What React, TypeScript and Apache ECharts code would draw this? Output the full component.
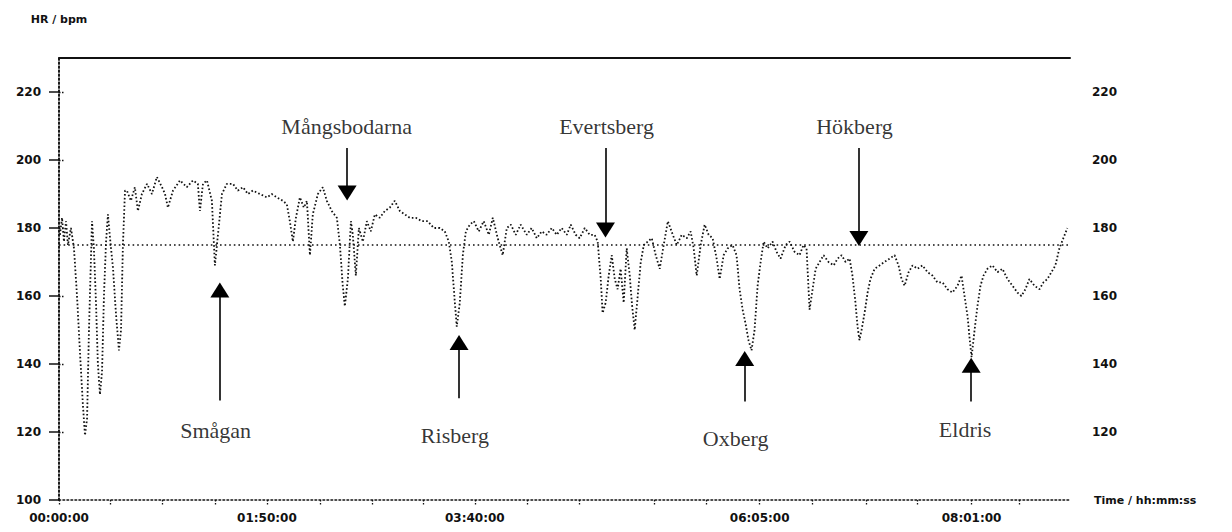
import React, { useEffect, useRef } from "react";
import * as echarts from "echarts";

// Heart-rate samples, [minutes from start, bpm], split by leg of the race
const legToSmagan: [number, number][] = [
  [0.5, 178], [1.6, 183], [2.6, 176], [3.7, 182], [4.7, 175], [6.3, 180], [7.9, 174], [9.5, 160],
  [11.1, 143], [12.6, 128], [13.7, 119], [14.8, 124], [15.8, 150], [16.9, 172], [17.4, 182], [18.4, 174],
  [19.5, 158], [20.5, 140], [21.6, 131], [22.7, 138], [23.7, 160], [24.8, 176], [25.8, 184], [26.9, 177],
  [28.5, 168], [30.0, 155], [31.6, 144], [32.7, 150], [33.7, 175], [34.8, 191], [35.8, 191], [37.9, 188],
  [40.0, 192], [41.6, 185], [43.7, 190], [46.4, 193], [49.0, 190], [51.6, 195], [54.3, 192], [55.9, 190],
  [57.4, 186], [60.1, 191], [63.8, 194], [67.4, 192], [70.6, 194], [73.2, 193], [74.3, 185], [75.9, 193],
  [78.0, 194], [80.6, 188], [82.2, 169], [83.8, 178],
];
const legToMangsbodarna: [number, number][] = [
  [85.9, 190], [88.5, 193], [91.7, 193], [94.3, 191], [97.0, 192], [99.6, 190], [102.2, 191], [105.9, 190],
  [109.6, 189], [112.2, 190], [114.9, 189], [118.0, 188], [120.1, 187], [121.7, 182], [123.3, 176], [124.9, 183],
  [127.0, 189], [129.1, 186], [130.7, 188], [132.3, 172], [133.8, 184], [136.5, 190], [139.1, 192], [141.2, 188],
  [143.8, 185], [146.5, 183], [148.1, 175], [149.6, 163], [150.7, 157], [152.3, 165],
];
const legToRisberg: [number, number][] = [
  [153.9, 182], [154.9, 178], [156.5, 166], [158.1, 180], [160.2, 176], [162.3, 182], [164.4, 179], [166.5, 184],
  [169.1, 183], [171.8, 185], [174.4, 186], [177.0, 188], [179.7, 185], [182.3, 184], [184.9, 183], [188.1, 183],
  [191.3, 182], [194.4, 182], [197.6, 180], [200.8, 180], [203.4, 179], [205.5, 176], [207.1, 170], [208.7, 158],
  [209.7, 151], [211.3, 158],
];
const legToEvertsberg: [number, number][] = [
  [212.9, 172], [214.5, 179], [216.6, 181], [218.7, 182], [221.3, 179], [223.9, 182], [226.6, 178], [228.7, 183],
  [231.3, 177], [233.9, 172], [236.1, 180], [238.2, 181], [240.8, 178], [243.4, 181], [246.6, 178], [249.2, 180],
  [251.9, 177], [254.5, 179], [257.1, 178], [259.8, 180], [262.4, 178], [265.0, 180], [267.7, 178], [269.8, 181],
  [272.4, 178], [274.5, 177], [277.2, 180], [279.8, 178], [282.4, 178], [284.0, 176], [285.6, 165], [286.6, 155],
  [288.2, 158],
];
const legToOxberg: [number, number][] = [
  [289.8, 166], [291.4, 172], [293.0, 165], [294.5, 162], [296.1, 168], [297.7, 158], [299.3, 174], [300.9, 166],
  [302.0, 158], [303.5, 150], [305.1, 160], [306.7, 170], [308.3, 175], [310.4, 176], [312.5, 177], [314.6, 172],
  [316.7, 168], [318.8, 175], [321.0, 182], [323.6, 178], [325.7, 175], [328.3, 178], [331.0, 177], [333.0, 179],
  [334.6, 174], [336.2, 166], [338.3, 175], [340.4, 181], [342.5, 178], [344.6, 177], [346.7, 171], [348.3, 165],
  [350.4, 172], [352.5, 174], [355.1, 175], [357.2, 172], [358.8, 162], [360.4, 156], [361.9, 152], [363.5, 147],
  [365.1, 144], [366.7, 150],
];
const legToHokberg: [number, number][] = [
  [368.3, 163], [369.9, 170], [371.5, 176], [373.6, 174], [376.2, 176], [378.3, 173], [380.4, 171], [383.1, 175],
  [385.2, 176], [387.8, 173], [390.4, 172], [392.5, 175], [394.1, 174], [395.7, 156], [397.3, 162], [398.9, 168],
  [401.0, 170], [403.1, 172], [405.7, 170], [408.4, 169], [410.5, 171], [412.6, 172], [414.7, 170], [416.8, 171],
  [418.3, 166], [419.9, 158], [421.0, 151], [422.0, 147], [423.1, 150], [424.7, 155],
];
const legToEldris: [number, number][] = [
  [426.3, 161], [427.8, 165], [430.0, 168], [432.6, 169], [435.2, 170], [437.9, 171], [440.5, 172], [442.6, 169],
  [444.2, 165], [445.8, 163], [447.9, 167], [450.0, 169], [452.6, 168], [455.2, 169], [457.9, 167], [460.5, 166],
  [463.1, 164], [465.8, 164], [468.4, 162], [471.0, 161], [473.7, 163], [475.8, 166], [477.4, 160], [479.0, 154],
  [480.0, 148], [481.1, 142], [482.7, 150],
];
const legToMora: [number, number][] = [
  [484.2, 157], [485.8, 163], [487.4, 166], [489.5, 168], [492.1, 169], [494.8, 167], [497.4, 168], [500.0, 165],
  [502.7, 163], [505.3, 161], [507.4, 160], [509.5, 162], [511.6, 165], [514.3, 163], [516.9, 162], [519.0, 164],
  [521.1, 165], [523.2, 167], [525.3, 169], [527.4, 174], [529.5, 177], [531.6, 180],
];

const thresholdBpm = 175;

// Checkpoint annotations: name, arrow x (min), arrow from/to (bpm), label position (min, bpm)
const checkpointNames = ["Smågan", "Mångsbodarna", "Risberg", "Evertsberg", "Oxberg", "Hökberg", "Eldris"];
const arrowMinute = [84.8, 151.9, 210.9, 288.1, 361.5, 421.7, 480.9];
const arrowFromBpm = [129.3, 203.5, 129.9, 203.5, 129.0, 203.5, 129.0];
const arrowTipBpm = [163.8, 188.3, 148.3, 177.4, 143.6, 174.9, 141.6];
const labelMinute = [82.6, 151.7, 208.7, 288.7, 356.7, 419.4, 477.7];
const labelBpm = [120.3, 210.0, 119.1, 210.0, 118.0, 210.0, 120.6];

// Axis ticks and labels
const yTicks = [100, 120, 140, 160, 180, 200, 220];
const xTickMinutes = [0, 26.9, 54.3, 82.2, 109.6, 137.5, 164.9, 191.8, 219.2, 246.6, 274.5, 314.0, 341.4, 369.4, 397.3, 425.7, 452.6, 481.1, 506.3];
const xLabelMinutes = [0, 109.6, 219.2, 369.4, 481.1];
const xLabelTexts = ["00:00:00", "01:50:00", "03:40:00", "06:05:00", "08:01:00"];

const axisFont = { fontFamily: "DejaVu Sans", fontSize: 12, fontWeight: "bold" as const, color: "#111" };

export default function App() {
  const ref = useRef<HTMLDivElement>(null);
  useEffect(() => {
    if (!ref.current) return;
    const chart = echarts.init(ref.current, undefined, { renderer: "svg" });
    const samples = [
      ...legToSmagan, ...legToMangsbodarna, ...legToRisberg, ...legToEvertsberg,
      ...legToOxberg, ...legToHokberg, ...legToEldris, ...legToMora,
    ];
    const arrowLines: any[] = checkpointNames.map((_, i) => {
      const down = arrowTipBpm[i] < arrowFromBpm[i];
      const end = down ? arrowTipBpm[i] + 2 : arrowTipBpm[i] - 2;
      return [
        { coord: [arrowMinute[i], arrowFromBpm[i]], symbol: "none" },
        {
          coord: [arrowMinute[i], end],
          symbol: "triangle",
          symbolSize: [19, 15],
        },
      ];
    });
    chart.setOption({
      animation: false,
      backgroundColor: "#fff",
      grid: { left: 59, right: 162, top: 58, bottom: 32, outerBoundsMode: "none", containLabel: false },
      xAxis: [
        {
          type: "value",
          min: 0,
          max: 533,
          position: "bottom",
          name: "Time / hh:mm:ss",
          nameLocation: "end",
          nameGap: 24,
          nameTextStyle: { ...axisFont, fontSize: 11, align: "left", verticalAlign: "middle" },
          axisLine: { show: true, lineStyle: { color: "#111", width: 1.6, type: [1.6, 2.4] } },
          axisTick: { show: true, length: 6, customValues: xTickMinutes, lineStyle: { color: "#111", width: 1.3, type: [1.5, 1.5] } },
          axisLabel: {
            ...axisFont,
            margin: 12,
            customValues: xLabelMinutes,
            formatter: (v: number) => {
              const idx = xLabelMinutes.findIndex((m) => Math.abs(m - v) < 0.01);
              return idx >= 0 ? xLabelTexts[idx] : "";
            },
          },
          splitLine: { show: false },
        },
        {
          type: "value",
          min: 0,
          max: 533,
          position: "top",
          axisLine: { show: true, lineStyle: { color: "#111", width: 2 } },
          axisTick: { show: false },
          axisLabel: { show: false },
          splitLine: { show: false },
        },
      ],
      yAxis: [
        {
          type: "value",
          min: 100,
          max: 230,
          interval: 20,
          position: "left",
          name: "HR / bpm",
          nameLocation: "end",
          nameGap: 33,
          nameTextStyle: { ...axisFont, fontSize: 11, align: "center" },
          axisLine: { show: true, lineStyle: { color: "#111", width: 1.6, type: [1.6, 2.4] } },
          axisTick: { show: true, length: 10, customValues: yTicks, lineStyle: { color: "#111", width: 1.5 } },
          axisLabel: { ...axisFont, margin: 18, customValues: yTicks },
          splitLine: { show: false },
        },
        {
          type: "value",
          min: 100,
          max: 230,
          interval: 20,
          position: "right",
          axisLine: { show: true, lineStyle: { color: "#111", width: 1.6, type: [1.6, 2.4] } },
          axisTick: { show: true, length: 6, customValues: yTicks.slice(1), lineStyle: { color: "#111", width: 1.3, type: [1.5, 1.5] } },
          axisLabel: { ...axisFont, margin: 22, customValues: yTicks.slice(1) },
          splitLine: { show: false },
        },
      ],
      series: [
        {
          type: "line",
          data: samples,
          xAxisIndex: 0,
          yAxisIndex: 0,
          symbol: "none",
          lineStyle: { color: "#111", width: 1.8, type: [1.6, 2.2] },
          markLine: {
            silent: true,
            animation: false,
            label: { show: false },
            data: [
              {
                yAxis: thresholdBpm,
                symbol: "none",
                lineStyle: { color: "#111", width: 1.7, type: [1.6, 3] },
              } as any,
              ...arrowLines,
            ],
            lineStyle: { color: "#000", width: 1.6, type: "solid" },
            itemStyle: { color: "#000" },
            symbol: ["none", "none"],
          },
        },
        {
          type: "scatter",
          xAxisIndex: 0,
          yAxisIndex: 0,
          symbolSize: 0,
          silent: true,
          data: checkpointNames.map((n, i) => ({ name: n, value: [labelMinute[i], labelBpm[i]] })),
          label: {
            show: true,
            position: "inside",
            formatter: (p: any) => p.name,
            fontFamily: "Liberation Serif",
            fontSize: 22,
            color: "#000",
          },
        },
      ],
    });
    return () => chart.dispose();
  }, []);
  return (
    <div
      ref={ref}
      style={{ position: "absolute", left: 0, top: 0, width: 1232, height: 532, background: "#fff" }}
    />
  );
}
